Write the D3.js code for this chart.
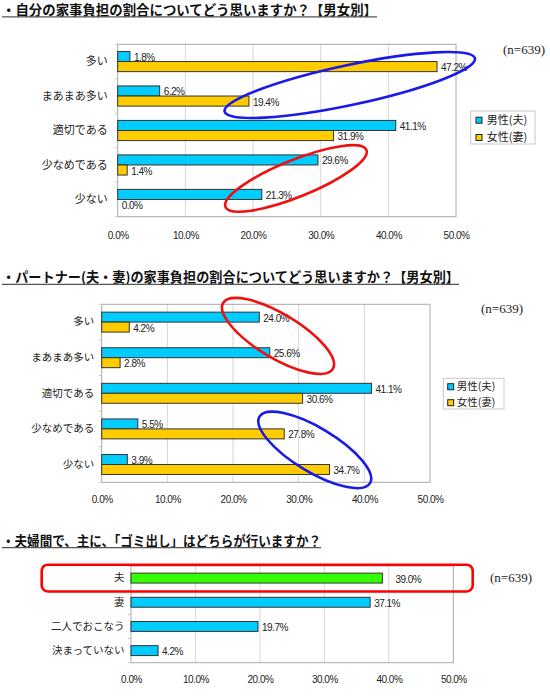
<!DOCTYPE html>
<html>
<head>
<meta charset="utf-8">
<script src="https://cdn.jsdelivr.net/npm/d3@7"></script>
<style>
body { margin: 0; background: #fff; }
svg { display: block; }
</style>
</head>
<body>
<svg id="chart" width="550" height="697"></svg>
<script>
// data
var ticks = [0, 10, 20, 30, 40, 50];
var seriesNames = ["男性(夫)", "女性(妻)"];
var note = "(n=639)";

var titles = [
	"・自分の家事負担の割合についてどう思いますか？【男女別】",
	"・パートナー(夫・妻)の家事負担の割合についてどう思いますか？【男女別】",
	"・夫婦間で、主に、「ゴミ出し」はどちらが行いますか？"
];

var cats1 = ["多い", "まあまあ多い", "適切である", "少なめである", "少ない"];
var male1 = [1.8, 6.2, 41.1, 29.6, 21.3];
var female1 = [47.2, 19.4, 31.9, 1.4, 0.0];

var cats2 = ["多い", "まあまあ多い", "適切である", "少なめである", "少ない"];
var male2 = [24.0, 25.6, 41.1, 5.5, 3.9];
var female2 = [4.2, 2.8, 30.6, 27.8, 34.7];

var cats3 = ["夫", "妻", "二人でおこなう", "決まっていない"];
var vals3 = [39.0, 37.1, 19.7, 4.2];

var CYAN = "#00ccff", YELLOW = "#ffcc00", GREEN = "#33ff00";
var JP = "'Noto Sans CJK JP', sans-serif";
var NUM = "'Liberation Sans', Arial, sans-serif";
var fmt = function(d){ return d3.format(".1f")(d) + "%"; };

var svg = d3.select("#chart");

function drawChart(c) {
	var g = svg.append("g");
	var x = d3.scaleLinear().domain([0, 50]).range([c.left, c.right]);
	var y = d3.scaleBand().domain(c.cats).range([c.top, c.bottom])
		.paddingInner(c.pad).paddingOuter(c.pad / 2);
	var sub = d3.scaleBand().domain(d3.range(c.series.length)).range([0, y.bandwidth()]);
	// index -> centre of the category, for the hand drawn marks
	var yIdx = d3.scaleLinear().domain([0, c.cats.length - 1])
		.range([y(c.cats[0]) + y.bandwidth() / 2, y(c.cats[c.cats.length - 1]) + y.bandwidth() / 2]);

	// title + underline
	g.append("text")
		.attr("x", 2).attr("y", c.titleY)
		.attr("textLength", c.titleLen).attr("lengthAdjust", "spacingAndGlyphs")
		.style("font-family", JP).style("font-size", "13.5px").style("font-weight", "bold")
		.attr("fill", "#111")
		.text(c.title);
	g.append("line")
		.attr("x1", 2).attr("x2", 2 + c.titleLen)
		.attr("y1", c.lineY).attr("y2", c.lineY)
		.attr("stroke", "#555").attr("stroke-width", 1.3);

	// grid
	g.selectAll(".grid").data(ticks.slice(1, -1)).enter().append("line")
		.attr("x1", x).attr("x2", x)
		.attr("y1", c.top).attr("y2", c.bottom)
		.attr("stroke", "#d6d6d6");
	g.append("rect")
		.attr("x", c.left).attr("y", c.top)
		.attr("width", c.right - c.left).attr("height", c.bottom - c.top)
		.attr("fill", "none").attr("stroke", "#a8a8a8");

	// small ticks between categories
	g.selectAll(".ctick").data(d3.range(c.cats.length + 1)).enter().append("line")
		.attr("x1", c.left - 3).attr("x2", c.left)
		.attr("y1", function(i){ return c.top + i * y.step(); })
		.attr("y2", function(i){ return c.top + i * y.step(); })
		.attr("stroke", "#c8c8c8");

	// x axis
	var ax = g.append("g")
		.attr("transform", "translate(0," + c.bottom + ")")
		.call(d3.axisBottom(x).tickValues(ticks).tickSize(0).tickPadding(c.tickPad).tickFormat(fmt));
	ax.select(".domain").remove();
	ax.selectAll("text")
		.style("font-family", NUM).style("font-size", "10px").style("letter-spacing", "-0.5px")
		.attr("fill", "#222");

	// y axis labels
	var ay = g.append("g")
		.attr("transform", "translate(" + c.left + ",0)")
		.call(d3.axisLeft(y).tickSize(0).tickPadding(c.catGap));
	ay.select(".domain").remove();
	ay.selectAll("text")
		.style("font-family", JP).style("font-size", c.catFont + "px")
		.attr("fill", "#222");

	// bars + labels
	c.series.forEach(function(s, si) {
		var colorOf = function(d, i){ return c.cats[i] === c.highlight ? GREEN : s.color; };
		g.selectAll(null).data(s.values).enter().append("rect")
			.attr("x", x(0))
			.attr("y", function(d, i){ return y(c.cats[i]) + sub(si); })
			.attr("width", function(d){ return x(d) - x(0); })
			.attr("height", sub.bandwidth())
			.attr("fill", colorOf)
			.attr("stroke", function(d){ return d > 0 ? "#333" : "none"; });
		g.selectAll(null).data(s.values).enter().append("text")
			.attr("x", function(d, i){ return x(d) + (c.cats[i] === c.highlight ? 13 : 4); })
			.attr("y", function(d, i){ return y(c.cats[i]) + sub(si) + sub.bandwidth() / 2 + 1; })
			.attr("dy", "0.35em")
			.style("font-family", NUM).style("font-size", "10px").style("letter-spacing", "-0.5px")
			.attr("fill", "#222")
			.text(fmt);
	});

	// (n=639)
	g.append("text")
		.attr("x", c.nX).attr("y", c.nY)
		.style("font-family", "'Liberation Serif', 'Times New Roman', serif").style("font-size", "13px")
		.attr("fill", "#222")
		.text(note);

	// legend
	if (c.legend) {
		var L = c.legend;
		var lg = g.append("g").attr("transform", "translate(" + L.x + "," + L.y + ")");
		lg.append("rect").attr("width", L.w).attr("height", L.h)
			.attr("fill", "#fff").attr("stroke", "#c8c8c8");
		var item = lg.selectAll(".item").data(c.series).enter().append("g")
			.attr("transform", function(d, i){ return "translate(0," + L.rows[i] + ")"; });
		item.append("rect").attr("x", L.sx).attr("y", -3).attr("width", 6).attr("height", 6)
			.attr("fill", function(d){ return d.color; }).attr("stroke", "#222");
		item.append("text").attr("x", L.tx).attr("dy", "0.36em")
			.style("font-family", JP).style("font-size", L.font + "px")
			.attr("fill", "#222")
			.text(function(d){ return d.name; });
	}

	// hand drawn circles
	(c.rings || []).forEach(function(r) {
		g.append("ellipse")
			.attr("transform", "translate(" + x(r.v) + "," + yIdx(r.idx) + ") rotate(" + r.rot + ")")
			.attr("rx", r.rx).attr("ry", r.ry)
			.attr("fill", "none").attr("stroke", r.color).attr("stroke-width", 2.6);
	});
	if (c.box) {
		var cy = y(c.box.cat) + y.bandwidth() / 2;
		g.append("rect")
			.attr("x", c.left - c.box.padL).attr("y", cy - c.box.h / 2)
			.attr("width", c.right - c.left + c.box.padL + c.box.padR).attr("height", c.box.h)
			.attr("rx", 6)
			.attr("fill", "none").attr("stroke", "#ff0000").attr("stroke-width", 2.6);
	}
}

drawChart({
	title: titles[0], titleY: 14.5, lineY: 16.8, titleLen: 375,
	cats: cats1,
	series: [{name: seriesNames[0], values: male1, color: CYAN}, {name: seriesNames[1], values: female1, color: YELLOW}],
	top: 44.3, bottom: 216.7, left: 117.7, right: 456, pad: 0.415,
	catFont: 11, catGap: 10, tickPad: 15.5,
	nX: 503, nY: 54,
	legend: {x: 470.7, y: 111, w: 64.3, h: 33, rows: [9.2, 26.5], sx: 5.3, tx: 16, font: 11},
	rings: [
		{v: 34.3, idx: 0.68, rx: 128, ry: 20, rot: -12, color: "#1a1ae6"},
		{v: 26.35, idx: 3.39, rx: 76, ry: 18.5, rot: -22, color: "#ee1111"}
	]
});

drawChart({
	title: titles[1], titleY: 281.5, lineY: 284.3, titleLen: 457,
	cats: cats2,
	series: [{name: seriesNames[0], values: male2, color: CYAN}, {name: seriesNames[1], values: female2, color: YELLOW}],
	top: 304.3, bottom: 482.3, left: 101.7, right: 430, pad: 0.44,
	catFont: 10.5, catGap: 7.5, tickPad: 13.5,
	nX: 481, nY: 312.5,
	legend: {x: 443.3, y: 378.3, w: 60.7, h: 30.7, rows: [8.4, 24.4], sx: 4.4, tx: 13.4, font: 10.5},
	rings: [
		{v: 26.85, idx: 0.39, rx: 64, ry: 22, rot: 31, color: "#ee1111"},
		{v: 32.45, idx: 3.59, rx: 64.5, ry: 22, rot: 31, color: "#1a1ae6"}
	]
});

drawChart({
	title: titles[2], titleY: 545.5, lineY: 547.6, titleLen: 319,
	cats: cats3,
	series: [{name: "", values: vals3, color: CYAN}],
	highlight: "夫",
	top: 566, bottom: 662.7, left: 131, right: 453.3, pad: 0.59,
	catFont: 10.5, catGap: 6.5, tickPad: 12.8,
	nX: 490, nY: 581.5,
	box: {cat: "夫", padL: 89.3, padR: 19.4, h: 26.7}
});
</script>
</body>
</html>
